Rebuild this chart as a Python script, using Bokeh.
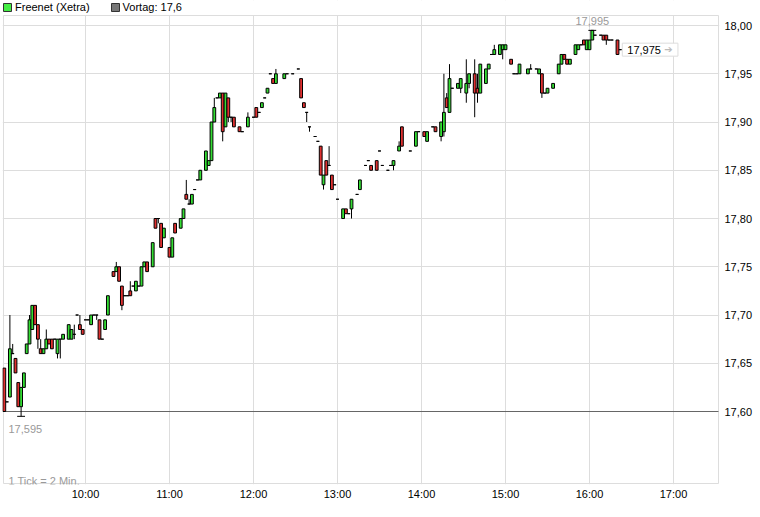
from bokeh.plotting import figure
from bokeh.models import (ColumnDataSource, FixedTicker, CustomJSTickFormatter, BoxAnnotation,
                          Label, Legend, LegendItem, Range1d)
from bokeh.embed import file_html
from bokeh.resources import INLINE

# ---------------- data ----------------
series_name = "Freenet (Xetra)"
prev_close = 17.60
tick_note = "1 Tick = 2 Min."
hour_ticks = ["10:00", "11:00", "12:00", "13:00", "14:00", "15:00", "16:00", "17:00"]
price_ticks = [17.60, 17.65, 17.70, 17.75, 17.80, 17.85, 17.90, 17.95, 18.00]

times = [
    "09:02", "09:04", "09:06", "09:08", "09:10", "09:12", "09:14", "09:16", "09:18", "09:20",
    "09:22", "09:24", "09:26", "09:28", "09:30", "09:32", "09:34", "09:36", "09:38", "09:40",
    "09:42", "09:44", "09:48", "09:50", "09:52", "09:54", "09:56", "09:58",
    "10:00", "10:02", "10:04", "10:06", "10:08", "10:10", "10:12", "10:14", "10:16", "10:20",
    "10:22", "10:24", "10:26", "10:28", "10:30", "10:32", "10:34", "10:36", "10:38", "10:40",
    "10:42", "10:44", "10:48", "10:50", "10:52", "10:54", "10:56",
    "11:00", "11:02", "11:04", "11:08", "11:10", "11:12", "11:14", "11:16", "11:18", "11:20",
    "11:22", "11:26", "11:28", "11:30", "11:32", "11:34", "11:36", "11:38", "11:40", "11:42",
    "11:44", "11:46", "11:50", "11:52", "11:56",
    "12:00", "12:02", "12:04", "12:06", "12:08", "12:10", "12:12", "12:14", "12:16", "12:22",
    "12:24", "12:28", "12:32", "12:34", "12:36", "12:38", "12:40", "12:44", "12:46", "12:48",
    "12:50", "12:52", "12:54", "12:56", "12:58",
    "13:00", "13:04", "13:06", "13:08", "13:10", "13:14", "13:16", "13:20", "13:22", "13:24",
    "13:28", "13:30", "13:32", "13:36", "13:38", "13:40", "13:44", "13:46", "13:52", "13:56",
    "13:58",
    "14:02", "14:04", "14:08", "14:10", "14:14", "14:16", "14:18", "14:20", "14:22", "14:26",
    "14:28", "14:32", "14:34", "14:38", "14:40", "14:42", "14:46", "14:48", "14:50", "14:52",
    "14:56", "14:58",
    "15:00", "15:04", "15:06", "15:08", "15:10", "15:16", "15:18", "15:22", "15:24", "15:26",
    "15:28", "15:30", "15:34", "15:38", "15:40", "15:42", "15:44", "15:46", "15:50", "15:52",
    "15:54", "15:56", "15:58",
    "16:00", "16:02", "16:04", "16:08", "16:10", "16:12", "16:14", "16:16", "16:20", "16:22",
]

opens = [
    17.645, 17.610, 17.615, 17.660, 17.655, 17.630, 17.605, 17.625, 17.660, 17.670,
    17.685, 17.710, 17.690, 17.665, 17.660, 17.665, 17.675, 17.675, 17.675, 17.660,
    17.675, 17.675, 17.675, 17.675, 17.680, 17.700, 17.690, 17.685,
    17.695, 17.695, 17.690, 17.700, 17.700, 17.695, 17.675, 17.685, 17.700, 17.745,
    17.745, 17.750, 17.730, 17.720, 17.720, 17.725, 17.730, 17.725, 17.730, 17.730,
    17.750, 17.755, 17.750, 17.800, 17.800, 17.795, 17.780,
    17.770, 17.760, 17.795, 17.790, 17.800, 17.825, 17.815, 17.815, 17.830, 17.840,
    17.840, 17.850, 17.855, 17.860, 17.900, 17.925, 17.925, 17.930, 17.895, 17.925,
    17.905, 17.905, 17.895, 17.890, 17.895,
    17.905, 17.915, 17.910, 17.915, 17.925, 17.930, 17.950, 17.945, 17.940, 17.945,
    17.950, 17.950, 17.955, 17.945, 17.920, 17.910, 17.895, 17.885, 17.880, 17.875,
    17.835, 17.860, 17.855, 17.845, 17.835,
    17.820, 17.800, 17.810, 17.805, 17.810, 17.825, 17.830, 17.855, 17.860, 17.855,
    17.860, 17.870, 17.855, 17.850, 17.855, 17.855, 17.870, 17.895, 17.870, 17.875,
    17.890,
    17.890, 17.880, 17.895, 17.895, 17.885, 17.890, 17.925, 17.910, 17.935, 17.935,
    17.935, 17.930, 17.940, 17.950, 17.935, 17.930, 17.940, 17.955, 17.970, 17.970,
    17.970, 17.975,
    17.975, 17.965, 17.950, 17.950, 17.950, 17.950, 17.955, 17.955, 17.950, 17.950,
    17.930, 17.930, 17.935, 17.950, 17.960, 17.970, 17.965, 17.960, 17.970, 17.975,
    17.980, 17.985, 17.975,
    17.975, 17.985, 17.990, 17.990, 17.990, 17.990, 17.985, 17.985, 17.985, 17.975,
]

highs = [
    17.645, 17.610, 17.700, 17.670, 17.655, 17.630, 17.625, 17.640, 17.670, 17.700,
    17.710, 17.710, 17.690, 17.675, 17.665, 17.685, 17.675, 17.675, 17.675, 17.675,
    17.675, 17.680, 17.690, 17.685, 17.690, 17.700, 17.700, 17.685,
    17.695, 17.695, 17.700, 17.700, 17.700, 17.695, 17.675, 17.695, 17.720, 17.745,
    17.755, 17.750, 17.730, 17.720, 17.720, 17.735, 17.730, 17.735, 17.730, 17.750,
    17.755, 17.755, 17.775, 17.800, 17.800, 17.795, 17.790,
    17.770, 17.780, 17.795, 17.800, 17.810, 17.840, 17.820, 17.825, 17.830, 17.840,
    17.850, 17.870, 17.860, 17.900, 17.925, 17.925, 17.930, 17.930, 17.930, 17.925,
    17.905, 17.905, 17.895, 17.890, 17.910,
    17.905, 17.915, 17.910, 17.920, 17.925, 17.935, 17.950, 17.945, 17.955, 17.950,
    17.950, 17.950, 17.955, 17.945, 17.920, 17.910, 17.895, 17.885, 17.880, 17.875,
    17.845, 17.860, 17.875, 17.845, 17.835,
    17.820, 17.810, 17.810, 17.805, 17.820, 17.825, 17.840, 17.855, 17.860, 17.855,
    17.860, 17.870, 17.855, 17.850, 17.855, 17.860, 17.880, 17.895, 17.870, 17.890,
    17.890,
    17.890, 17.890, 17.895, 17.895, 17.900, 17.950, 17.930, 17.960, 17.935, 17.940,
    17.945, 17.965, 17.950, 17.965, 17.950, 17.960, 17.955, 17.960, 17.970, 17.980,
    17.980, 17.980,
    17.980, 17.965, 17.950, 17.950, 17.960, 17.955, 17.960, 17.955, 17.955, 17.950,
    17.930, 17.935, 17.940, 17.960, 17.970, 17.970, 17.965, 17.965, 17.980, 17.980,
    17.980, 17.985, 17.985,
    17.985, 17.995, 17.990, 17.990, 17.990, 17.990, 17.985, 17.985, 17.985, 17.975,
]

lows = [
    17.600, 17.610, 17.615, 17.660, 17.640, 17.605, 17.595, 17.625, 17.660, 17.670,
    17.685, 17.690, 17.665, 17.660, 17.660, 17.665, 17.670, 17.665, 17.675, 17.655,
    17.655, 17.675, 17.675, 17.675, 17.675, 17.700, 17.685, 17.680,
    17.695, 17.695, 17.690, 17.700, 17.695, 17.675, 17.675, 17.685, 17.700, 17.740,
    17.745, 17.735, 17.705, 17.720, 17.720, 17.720, 17.730, 17.725, 17.730, 17.730,
    17.750, 17.745, 17.750, 17.790, 17.795, 17.770, 17.780,
    17.760, 17.760, 17.785, 17.790, 17.800, 17.820, 17.815, 17.815, 17.830, 17.840,
    17.840, 17.850, 17.855, 17.860, 17.900, 17.925, 17.925, 17.880, 17.895, 17.900,
    17.900, 17.895, 17.890, 17.890, 17.895,
    17.905, 17.905, 17.910, 17.915, 17.925, 17.930, 17.950, 17.940, 17.940, 17.945,
    17.950, 17.950, 17.955, 17.925, 17.915, 17.900, 17.890, 17.885, 17.880, 17.845,
    17.830, 17.845, 17.855, 17.830, 17.835,
    17.820, 17.800, 17.805, 17.805, 17.800, 17.825, 17.830, 17.855, 17.860, 17.850,
    17.850, 17.870, 17.855, 17.850, 17.855, 17.850, 17.870, 17.875, 17.870, 17.875,
    17.890,
    17.885, 17.880, 17.895, 17.890, 17.880, 17.885, 17.915, 17.910, 17.935, 17.935,
    17.930, 17.920, 17.935, 17.905, 17.920, 17.930, 17.940, 17.955, 17.970, 17.970,
    17.970, 17.965,
    17.975, 17.960, 17.950, 17.950, 17.950, 17.950, 17.955, 17.955, 17.950, 17.925,
    17.930, 17.930, 17.935, 17.950, 17.960, 17.965, 17.960, 17.960, 17.970, 17.975,
    17.980, 17.980, 17.975,
    17.975, 17.985, 17.990, 17.990, 17.985, 17.980, 17.985, 17.985, 17.970, 17.975,
]

closes = [
    17.600, 17.610, 17.665, 17.660, 17.640, 17.605, 17.625, 17.640, 17.670, 17.695,
    17.710, 17.690, 17.675, 17.660, 17.665, 17.675, 17.670, 17.665, 17.675, 17.675,
    17.675, 17.680, 17.690, 17.685, 17.680, 17.700, 17.685, 17.680,
    17.695, 17.695, 17.700, 17.700, 17.700, 17.675, 17.675, 17.695, 17.720, 17.740,
    17.750, 17.735, 17.710, 17.720, 17.720, 17.720, 17.730, 17.735, 17.730, 17.750,
    17.755, 17.745, 17.775, 17.790, 17.800, 17.770, 17.790,
    17.760, 17.780, 17.785, 17.800, 17.810, 17.820, 17.815, 17.825, 17.830, 17.840,
    17.850, 17.870, 17.860, 17.900, 17.915, 17.925, 17.930, 17.890, 17.930, 17.905,
    17.905, 17.895, 17.890, 17.890, 17.905,
    17.905, 17.905, 17.910, 17.920, 17.925, 17.935, 17.950, 17.940, 17.950, 17.950,
    17.950, 17.950, 17.955, 17.925, 17.915, 17.910, 17.895, 17.885, 17.880, 17.845,
    17.845, 17.845, 17.855, 17.830, 17.835,
    17.820, 17.810, 17.805, 17.805, 17.820, 17.825, 17.840, 17.855, 17.860, 17.850,
    17.850, 17.870, 17.855, 17.850, 17.855, 17.860, 17.875, 17.875, 17.870, 17.890,
    17.890,
    17.885, 17.890, 17.895, 17.890, 17.900, 17.910, 17.915, 17.945, 17.935, 17.940,
    17.945, 17.940, 17.950, 17.930, 17.930, 17.960, 17.955, 17.960, 17.970, 17.975,
    17.980, 17.980,
    17.980, 17.960, 17.950, 17.950, 17.960, 17.955, 17.955, 17.955, 17.955, 17.930,
    17.930, 17.935, 17.940, 17.960, 17.970, 17.965, 17.960, 17.965, 17.980, 17.980,
    17.980, 17.980, 17.985,
    17.985, 17.995, 17.990, 17.990, 17.985, 17.985, 17.985, 17.985, 17.970, 17.975,
]

assert len(times) == len(opens) == len(highs) == len(lows) == len(closes)

# ---------------- helpers ----------------
FONT = "Liberation Sans"
UP, DOWN = "#33dd33", "#e03030"
GRID = "#dddddd"


def to_min(s):
    h, m = s.split(":")
    return int(h) * 60 + int(m)


def de(v, nd):
    return f"{v:.{nd}f}".replace(".", ",")


xs = [to_min(t) for t in times]
colors = [UP if c > o else (DOWN if c < o else "#000000") for o, c in zip(opens, closes)]
src = ColumnDataSource(dict(
    x=xs, high=highs, low=lows,
    top=[max(o, c) for o, c in zip(opens, closes)],
    bottom=[min(o, c) for o, c in zip(opens, closes)],
    color=colors,
))

# visible chart box (time in minutes of day, price) and page geometry
W, H = 760, 517
PX_PER_MIN, PX_PER_EUR = 1.4, 965.0
box_left, box_right = 541.43, 1052.14
box_bottom, box_top = 17.5254, 18.0104
BL, BR, BT, BB = 2, 41, 0, 33          # frame extends 1px beyond box at left/right/bottom, to top edge
x_range = Range1d(box_left - 1 / PX_PER_MIN, box_right + 1 / PX_PER_MIN)
y_range = Range1d(box_bottom - 1 / PX_PER_EUR, box_top + 15 / PX_PER_EUR)

p = figure(width=W, height=H, output_backend="svg", toolbar_location=None, tools="",
           x_range=x_range, y_range=y_range, y_axis_location="right",
           min_border_left=BL, min_border_right=BR, min_border_top=BT, min_border_bottom=BB)
p.background_fill_color = "white"
p.border_fill_color = "white"
p.outline_line_color = None

# grid
p.xgrid.ticker = FixedTicker(ticks=[to_min(h) for h in hour_ticks])
p.ygrid.ticker = FixedTicker(ticks=[v for v in price_ticks if v != prev_close])
for g in (p.xgrid, p.ygrid):
    g.grid_line_color = GRID
    g.grid_line_width = 1

# white masks outside the chart box (keep grid inside the box only)
for kw in (dict(bottom=box_top, top=y_range.end, left=x_range.start, right=x_range.end),
           dict(bottom=y_range.start, top=box_bottom, left=x_range.start, right=x_range.end),
           dict(bottom=y_range.start, top=y_range.end, left=x_range.start, right=box_left),
           dict(bottom=y_range.start, top=y_range.end, left=box_right, right=x_range.end)):
    p.add_layout(BoxAnnotation(fill_color="white", fill_alpha=1, line_color=None,
                               level="underlay", **kw))

# axes
p.xaxis.ticker = FixedTicker(ticks=[to_min(h) for h in hour_ticks])
p.xaxis.formatter = CustomJSTickFormatter(code="""
const h = Math.floor(tick / 60), m = Math.round(tick % 60);
return String(h).padStart(2, '0') + ':' + String(m).padStart(2, '0');
""")
p.yaxis.ticker = FixedTicker(ticks=price_ticks)
p.yaxis.formatter = CustomJSTickFormatter(code="return tick.toFixed(2).replace('.', ',');")
for ax in p.axis:
    ax.axis_line_color = None
    ax.major_tick_line_color = None
    ax.minor_tick_line_color = None
    ax.major_tick_out = 0
    ax.major_tick_in = 0
    ax.major_label_text_font = FONT
    ax.major_label_text_font_size = "11px"
    ax.major_label_text_color = "#000000"
p.xaxis.major_label_standoff = 3
p.yaxis.major_label_standoff = 5

# chart box border
p.segment(x0=[box_left, box_left, box_right, box_left],
          y0=[box_top, box_bottom, box_bottom, box_bottom],
          x1=[box_right, box_right, box_right, box_left],
          y1=[box_top, box_bottom, box_top, box_top],
          line_color=GRID, line_width=1)

# previous-day close line
p.segment(x0=[box_left], y0=[prev_close], x1=[box_right], y1=[prev_close],
          line_color="#666666", line_width=1)

# candles
p.segment(x0="x", y0="low", x1="x", y1="high", source=src, line_color="black", line_width=1)
p.vbar(x="x", width=2.0, top="top", bottom="bottom", source=src,
       fill_color="color", line_color="black", line_width=1)

# day high / low markers
i_hi = max(range(len(highs)), key=lambda i: highs[i])
i_lo = min(range(len(lows)), key=lambda i: lows[i])
hi, lo = highs[i_hi], lows[i_lo]
cap = 2.8
p.segment(x0=[xs[i_hi] - cap, xs[i_lo] - cap], y0=[hi, lo],
          x1=[xs[i_hi] + cap, xs[i_lo] + cap], y1=[hi, lo], line_color="black", line_width=1)

p.add_layout(Label(x=xs[i_hi], y=hi, y_offset=9, text=de(hi, 3), text_align="center",
                   text_baseline="alphabetic", text_color="#999999",
                   text_font=FONT, text_font_size="11px"))
p.add_layout(Label(x=box_left, y=lo, x_offset=5, y_offset=-13, text=de(lo, 3),
                   text_align="left", text_baseline="alphabetic", text_color="#999999",
                   text_font=FONT, text_font_size="11px"))
p.add_layout(Label(x=box_left, y=box_bottom, x_offset=5, y_offset=3, text=tick_note,
                   text_align="left", text_baseline="alphabetic", text_color="#999999",
                   text_font=FONT, text_font_size="11px"))

# last price tag
last = closes[-1]
p.add_layout(Label(x=xs[-1], y=last, x_offset=2, text=de(last, 3), text_align="left",
                   text_baseline="middle", text_color="#000000", text_font=FONT,
                   text_font_size="11px",
                   padding=dict(left=5, right=17, top=3, bottom=2),
                   border_line_color=GRID, background_fill_color="white"))
p.add_layout(Label(x=xs[-1], y=last, x_offset=44, text="\u2794", text_align="left",
                   text_baseline="middle", text_color="#bbbbbb", text_font="DejaVu Sans",
                   text_font_size="10px"))

# legend at the top-left, inside the (extended) frame; proxies sit outside the visible range
frame_h = H - BT - BB
proxy = dict(left=[x_range.start - 60], right=[x_range.start - 50],
             top=[y_range.start - 0.1], bottom=[y_range.start - 0.2])
r_series = p.quad(fill_color="#44ee44", line_color="#333333", **proxy)
r_prev = p.quad(fill_color="#777777", line_color="#333333", **proxy)
legend = Legend(items=[LegendItem(label=series_name, renderers=[r_series]),
                       LegendItem(label="Vortag: " + f"{prev_close:g}".replace(".", ","),
                                  renderers=[r_prev])],
                orientation="horizontal", location=(0, frame_h - 13),
                glyph_width=10, glyph_height=10, label_height=10, label_standoff=3,
                spacing=20, padding=0, margin=0, border_line_color=None,
                background_fill_alpha=0, label_text_font=FONT, label_text_font_size="11px",
                label_text_color="#000000")
p.add_layout(legend)

open("out.html", "w").write(file_html(p, INLINE))
